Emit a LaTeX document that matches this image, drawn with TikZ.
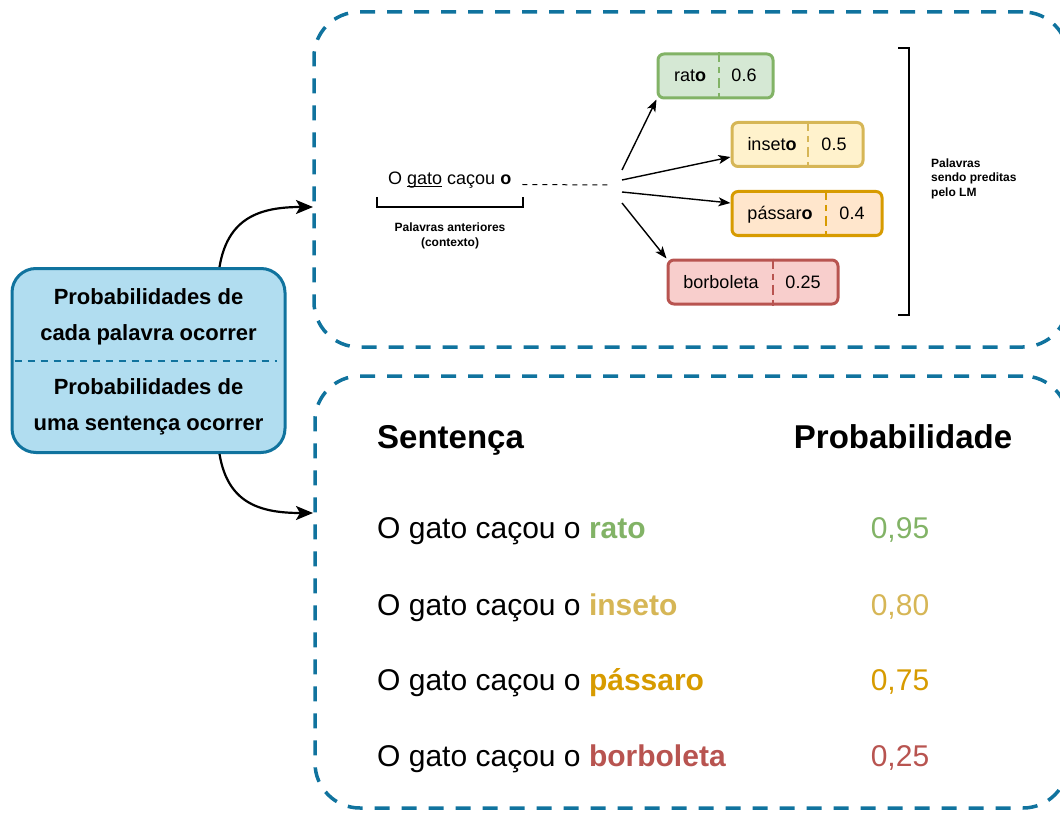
\documentclass[tikz,border=0pt]{standalone}
\usepackage{fontspec}
\setmainfont{Liberation Sans}
\usepackage{xcolor}
\usepackage{tikz}
\usetikzlibrary{arrows.meta}

\definecolor{frameblue}{HTML}{10739E}
\definecolor{boxblue}{HTML}{B1DDF0}
\definecolor{ratodraw}{HTML}{82B366}
\definecolor{ratofill}{HTML}{D5E8D4}
\definecolor{insetodraw}{HTML}{D6B656}
\definecolor{insetofill}{HTML}{FFF2CC}
\definecolor{passarodraw}{HTML}{D79B00}
\definecolor{passarofill}{HTML}{FFE6CC}
\definecolor{borboletadraw}{HTML}{B85450}
\definecolor{borboletafill}{HTML}{F8CECC}

% underline just below the baseline
\newcommand{\lowline}[1]{\setbox0\hbox{#1}\rlap{\rule[-2.4pt]{\wd0}{1.1pt}}\box0\relax}

\begin{document}
\begin{tikzpicture}[x=1pt,y=-1pt,
    dashframe/.style={draw=frameblue, line width=3.5pt, dash pattern=on 15pt off 12pt, rounded corners=45pt, inner sep=0pt},
    probbox/.style={draw=frameblue, fill=boxblue, line width=3pt, rounded corners=24pt, minimum width=273pt, minimum height=184pt, inner sep=0pt},
    probtxt/.style={align=center, inner sep=0pt, font=\fontsize{22}{36}\selectfont\bfseries},
    bigarrow/.style={line width=2.2pt, -{Stealth[length=17pt, width=14pt, inset=4pt]}},
    wordbox/.style={line width=3pt, rounded corners=6pt, minimum height=44pt, inner sep=0pt},
    wordtxt/.style={anchor=base, inner sep=0pt, font=\fontsize{18}{22}\selectfont},
    wordsep/.style={line width=2pt, dash pattern=on 10pt off 5pt on 6pt off 5pt},
    fanarrow/.style={line width=1.4pt, -{Stealth[length=12pt, width=9pt, inset=3pt]}},
    ctxline/.style={line width=1pt, dash pattern=on 5pt off 5pt},
    bracketline/.style={line width=1.3pt},
    smalltxt/.style={inner sep=0pt, font=\fontsize{12}{14.5}\selectfont\bfseries},
    headtxt/.style={inner sep=0pt, font=\fontsize{33}{40}\selectfont\bfseries},
    rowtxt/.style={anchor=base west, inner sep=0pt, font=\fontsize{30}{36}\selectfont},
    rowval/.style={anchor=base, inner sep=0pt, font=\fontsize{30}{36}\selectfont}]
    \useasboundingbox (0,0) rectangle (1060,813);
    \clip (0,0) rectangle (1060,813);

    % Frames
    \node[dashframe, minimum width=754pt, minimum height=335pt] (topframe) at (691,179.5) {};
    \node[dashframe, minimum width=753pt, minimum height=432pt] (lowframe) at (691.5,592) {};

    % Left box
    \node[probbox] (probs) at (148.5,360.5) {};
    \draw[frameblue, line width=2pt, dash pattern=on 7pt off 6pt] ([xshift=4pt]probs.west) -- ([xshift=-10pt]probs.east);
    \node[probtxt] (wordprob) at (148.5,317) {Probabilidades de\\cada palavra ocorrer};
    \node[probtxt] (sentprob) at (148.5,407) {Probabilidades de\\uma sentença ocorrer};

    % Arrows to the frames
    \coordinate (upStart) at ([xshift=71pt]probs.north);
    \coordinate (upEnd) at (313,207);
    \coordinate (downStart) at ([xshift=71pt]probs.south);
    \coordinate (downEnd) at (313,513);
    \draw[bigarrow] (upStart) .. controls +(8,-48) and +(-55,0) .. (upEnd);
    \draw[bigarrow] (downStart) .. controls +(8,48) and +(-55,0) .. (downEnd);

    % Context
    \node[wordtxt, anchor=base west] (ctx) at (388,184.5) {O \lowline{gato} caçou \textbf{o}};
    \coordinate (fan) at (622,185);
    \draw[ctxline] ([xshift=11pt]ctx.base east) -- ([xshift=-14pt]fan);
    \draw[bracketline] (377,197) -- (377,207) -- (523,207) -- (523,197);
    \node[smalltxt, align=center] (ctxlabel) at (450,236) {Palavras anteriores\\(contexto)};

    % Predicted words
    \node[wordbox, draw=ratodraw, fill=ratofill, minimum width=115pt] (rato) at (715.5,76) {};
    \draw[wordsep, ratodraw] ([xshift=3.5pt]rato.north) -- ([xshift=3.5pt]rato.south);
    \node[wordtxt] (ratoW) at (690,81.5) {rat\textbf{o}};
    \node[wordtxt] (ratoP) at (744,81.5) {0.6};

    \node[wordbox, draw=insetodraw, fill=insetofill, minimum width=131pt] (inseto) at (797.5,144.5) {};
    \draw[wordsep, insetodraw] ([xshift=10.5pt]inseto.north) -- ([xshift=10.5pt]inseto.south);
    \node[wordtxt] (insetoW) at (772,151) {inset\textbf{o}};
    \node[wordtxt] (insetoP) at (834,151) {0.5};

    \node[wordbox, draw=passarodraw, fill=passarofill, minimum width=150pt] (passaro) at (807,213.5) {};
    \draw[wordsep, passarodraw] ([xshift=19pt]passaro.north) -- ([xshift=19pt]passaro.south);
    \node[wordtxt] (passaroW) at (780,220) {pássar\textbf{o}};
    \node[wordtxt] (passaroP) at (852,220) {0.4};

    \node[wordbox, draw=borboletadraw, fill=borboletafill, minimum width=170pt] (borboleta) at (753,282) {};
    \draw[wordsep, borboletadraw] ([xshift=20pt]borboleta.north) -- ([xshift=20pt]borboleta.south);
    \node[wordtxt] (borboletaW) at (721,288.5) {borboleta};
    \node[wordtxt] (borboletaP) at (803,288.5) {0.25};

    % Fan of arrows
    \draw[fanarrow] ([yshift=15pt]fan) -- (rato.south west);
    \draw[fanarrow] ([yshift=5pt]fan) -- ([yshift=-12.5pt]inseto.west);
    \draw[fanarrow] ([yshift=-7pt]fan) -- ([yshift=10.5pt]passaro.west);
    \draw[fanarrow] ([yshift=-18pt]fan) -- (borboleta.north west);

    % Bracket of predicted words
    \draw[bracketline] (898,48) -- (909,48) -- (909,315) -- (898,315);
    \node[smalltxt, align=left, anchor=west] (predlabel) at (931,178.5) {Palavras\\sendo preditas\\pelo LM};

    % Table
    \node[headtxt, anchor=base west] (headS) at (377,448) {Sentença};
    \node[headtxt, anchor=base] (headP) at (903,448) {Probabilidade};

    \node[rowtxt] (row1) at (377,538) {O gato caçou o \textcolor{ratodraw}{\textbf{rato}}};
    \node[rowval, text=ratodraw] (val1) at (900,538) {0,95};
    \node[rowtxt] (row2) at (377,615) {O gato caçou o \textcolor{insetodraw}{\textbf{inseto}}};
    \node[rowval, text=insetodraw] (val2) at (900,615) {0,80};
    \node[rowtxt] (row3) at (377,690) {O gato caçou o \textcolor{passarodraw}{\textbf{pássaro}}};
    \node[rowval, text=passarodraw] (val3) at (900,690) {0,75};
    \node[rowtxt] (row4) at (377,766) {O gato caçou o \textcolor{borboletadraw}{\textbf{borboleta}}};
    \node[rowval, text=borboletadraw] (val4) at (900,766) {0,25};
\end{tikzpicture}
\end{document}
